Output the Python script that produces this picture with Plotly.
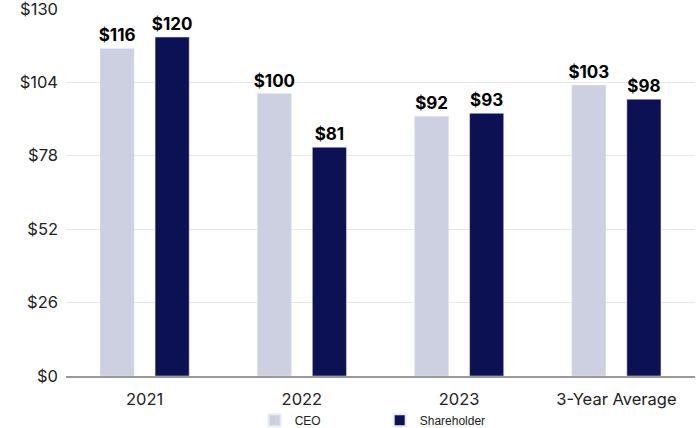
import plotly.graph_objects as go

categories = ["2021", "2022", "2023", "3-Year Average"]
ceo = [116, 100, 92, 103]
shareholder = [120, 81, 93, 98]
ceo_labels = ["$116", "$100", "$92", "$103"]
sh_labels = ["$120", "$81", "$93", "$98"]
y_ticks = [0, 26, 52, 78, 104, 130]
y_tick_text = ["$0", "$26", "$52", "$78", "$104", "$130"]

fig = go.Figure()
fig.add_trace(go.Bar(x=categories, y=ceo, name="CEO", marker_color="#cdd0e0",
                     text=ceo_labels, textposition="outside", cliponaxis=False,
                     constraintext="none",
                     textfont=dict(family="Inter", size=17, color="#000000", weight="bold")))
fig.add_trace(go.Bar(x=categories, y=shareholder, name="Shareholder", marker_color="#0b1152",
                     text=sh_labels, textposition="outside", cliponaxis=False,
                     constraintext="none",
                     textfont=dict(family="Inter", size=17, color="#000000", weight="bold")))

fig.update_layout(
    width=700, height=428,
    margin=dict(l=66, r=5, t=8, b=52, autoexpand=False),
    paper_bgcolor="white", plot_bgcolor="white",
    barmode="group", bargap=0.3, bargroupgap=0.38,
    font=dict(family="Inter", size=16, color="#222222"),
    showlegend=True,
    legend=dict(orientation="h", x=0.30, xanchor="left", y=-0.12, yanchor="middle",
                bgcolor="rgba(0,0,0,0)",
                font=dict(family="Liberation Sans", size=12, color="#222222"),
                entrywidth=80, entrywidthmode="pixels", traceorder="normal",
                itemsizing="constant"),
)
fig.update_yaxes(range=[0, 130.3], tickvals=y_ticks, ticktext=y_tick_text,
                 showgrid=True, gridcolor="#e8e8e8", gridwidth=1,
                 zeroline=False, showline=False, ticks="", ticklabelstandoff=7,
                 automargin=False, ticklabeloverflow="allow",
                 tickfont=dict(size=16.5, color="#222222"))
fig.update_xaxes(showline=True, linecolor="#999999", linewidth=1.5, ticks="",
                 automargin=False, ticklabelstandoff=7,
                 tickfont=dict(size=16.5, color="#222222"))

fig.write_html("out.html", config={"displayModeBar": False})
with open("out.html", encoding="utf-8") as f:
    html = f.read()
html = html.replace("<head>", "<head><style>html,body{margin:0;padding:0;overflow:hidden;}</style>", 1)
with open("out.html", "w", encoding="utf-8") as f:
    f.write(html)
